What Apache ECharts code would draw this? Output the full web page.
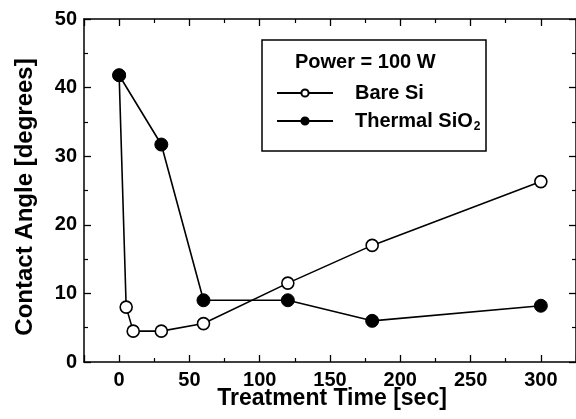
<!DOCTYPE html>
<html>
<head>
<meta charset="utf-8">
<script src="https://cdn.jsdelivr.net/npm/echarts@6/dist/echarts.min.js"></script>
<style>
  html, body { margin: 0; padding: 0; background: #fff; }
  #main { width: 576px; height: 419px; }
</style>
</head>
<body>
<div id="main"></div>
<script>
// data
const bareSiTime = [0, 5, 10, 30, 60, 120, 180, 300];
const bareSiAngle = [41.8, 8.0, 4.5, 4.5, 5.6, 11.5, 17.0, 26.3];
const sio2Time = [0, 30, 60, 120, 180, 300];
const sio2Angle = [41.8, 31.7, 9.0, 9.0, 6.0, 8.2];

const FONT = "Liberation Sans";

const chart = echarts.init(document.getElementById("main"), null, { renderer: "canvas" });

function pairs(xs, ys) {
  return xs.map((x, i) => [x, ys[i]]);
}

const axisCommon = {
  axisLine: { onZero: false, lineStyle: { color: "#000", width: 1.5 } },
  axisTick: { inside: true, length: 7, lineStyle: { color: "#000", width: 1.3 } },
  minorTick: { show: true, splitNumber: 2, length: 4, lineStyle: { color: "#000", width: 1.2 } },
  splitLine: { show: false }
};

const option = {
  animation: false,
  grid: { left: 84, right: -2, top: 19, bottom: 57 },
  xAxis: [
    Object.assign({
      type: "value", min: -25, max: 325, splitNumber: 7,
      axisLabel: {
        color: "#000", fontFamily: FONT, fontWeight: "bold", fontSize: 20, margin: 8,
        showMinLabel: false, showMaxLabel: false
      }
    }, axisCommon),
    Object.assign({
      type: "value", min: -25, max: 325, splitNumber: 7, position: "top",
      axisLabel: { show: false }
    }, axisCommon)
  ],
  yAxis: [
    Object.assign({
      type: "value", min: 0, max: 50, interval: 10,
      axisLabel: { color: "#000", fontFamily: FONT, fontWeight: "bold", fontSize: 20, margin: 7 }
    }, axisCommon),
    Object.assign({
      type: "value", min: 0, max: 50, interval: 10, position: "right",
      axisLabel: { show: false }
    }, axisCommon)
  ],
  legend: {
    orient: "vertical",
    left: 271,
    top: 78,
    itemWidth: 56,
    itemHeight: 9,
    itemGap: 8,
    data: ["Bare Si", "Thermal SiO2"],
    formatter: function (name) {
      return name === "Thermal SiO2" ? "Thermal SiO{sub|2}" : name;
    },
    textStyle: {
      color: "#000", fontFamily: FONT, fontWeight: "bold", fontSize: 20, padding: [0, 0, 0, 17],
      rich: {
        sub: { fontFamily: FONT, fontWeight: "bold", fontSize: 12, verticalAlign: "bottom", padding: [12, 0, 0, 1] }
      }
    }
  },
  graphic: [
    {
      type: "rect",
      shape: { x: 262, y: 40, width: 224, height: 111 },
      style: { fill: "#fff", stroke: "#000", lineWidth: 1.5 },
      z: 0
    },
    {
      type: "text",
      x: 295, y: 52,
      style: { text: "Power = 100 W", fill: "#000", font: "bold 20px " + FONT },
      z: 10
    },
    {
      type: "text",
      x: 332, y: 387,
      style: { text: "Treatment Time [sec]", fill: "#000", font: "bold 23px " + FONT, textAlign: "center" },
      z: 10
    },
    {
      type: "text",
      rotation: Math.PI / 2,
      x: 25, y: 197,
      style: { text: "Contact Angle [degrees]", fill: "#000", font: "bold 24px " + FONT, textAlign: "center", textVerticalAlign: "middle" },
      z: 10
    }
  ],
  series: [
    {
      name: "Bare Si",
      type: "line",
      data: pairs(bareSiTime, bareSiAngle),
      symbol: "circle",
      symbolSize: 12,
      showAllSymbol: true,
      lineStyle: { color: "#000", width: 1.6 },
      itemStyle: { color: "#fff", borderColor: "#000", borderWidth: 1.6 },
      z: 3
    },
    {
      name: "Thermal SiO2",
      type: "line",
      data: pairs(sio2Time, sio2Angle),
      symbol: "circle",
      symbolSize: 13,
      showAllSymbol: true,
      lineStyle: { color: "#000", width: 1.6 },
      itemStyle: { color: "#000", borderColor: "#000", borderWidth: 1 },
      z: 4
    }
  ]
};

chart.setOption(option);
</script>
</body>
</html>
